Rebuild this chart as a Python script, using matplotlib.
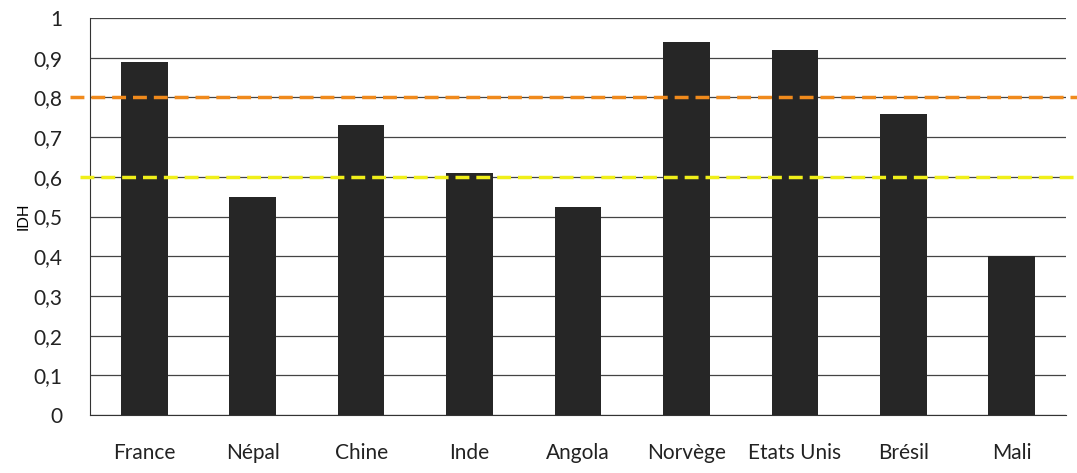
import numpy
from matplotlib import pyplot
from matplotlib.ticker import FuncFormatter

pays = ['France', 'Népal', 'Chine', 'Inde', 'Angola', 'Norvège',
        'Etats Unis', 'Brésil', 'Mali']
idh = [0.89, 0.55, 0.73, 0.61, 0.525, 0.94, 0.92, 0.757, 0.40]
seuil_haut = 0.8
seuil_moyen = 0.6

pyplot.rcParams['font.family'] = ['Lato', 'DejaVu Sans']

fig = pyplot.figure(figsize=(10.77, 4.73), dpi=100)
ax = fig.add_axes([90/1077, 1 - 415/473, (1066 - 90)/1077, (415 - 18)/473])

x = numpy.arange(len(pays))
ax.bar(x, idh, width=0.43, color='#262626', zorder=3)
ax.set_xlim(-0.5, len(pays) - 0.5)
ax.set_ylim(0, 1)
ax.set_yticks(numpy.arange(0, 1.01, 0.1))
ax.yaxis.set_major_formatter(FuncFormatter(
  lambda v, p: '{:g}'.format(round(v, 1)).replace('.', ',')))
ax.set_xticks(x)
ax.set_xticklabels(pays)
ax.tick_params(axis='both', length=0, labelsize=15, colors='#222222')
ax.tick_params(axis='x', pad=20)
ax.tick_params(axis='y', pad=20)
ax.set_ylabel('IDH', fontsize=11, labelpad=2)
ax.grid(axis='y', color='#444444', linewidth=0.9, zorder=0)
for side in ['top', 'right']:
  ax.spines[side].set_visible(False)
for side in ['left', 'bottom']:
  ax.spines[side].set_color('#333333')

ax.plot([-0.02, 1.02], [seuil_haut, seuil_haut], transform=ax.get_yaxis_transform(),
        color='#f08a1c', linestyle=(0, (4, 2)), linewidth=2.5,
        clip_on=False, zorder=5)
ax.plot([-0.01, 1.02], [seuil_moyen, seuil_moyen], transform=ax.get_yaxis_transform(),
        color='#f0ef1a', linestyle=(0, (4, 2)), linewidth=2.5,
        clip_on=False, zorder=5)

pyplot.savefig('out.png', dpi=100)
